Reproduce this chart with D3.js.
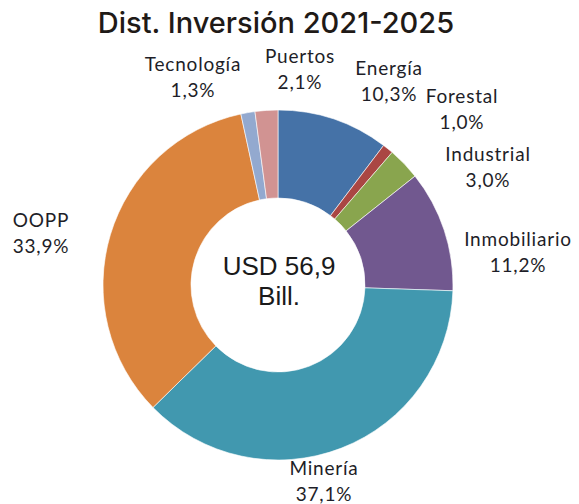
<!DOCTYPE html>
<html>
<head>
<meta charset="utf-8">
<script src="https://cdn.jsdelivr.net/npm/d3@7"></script>
<style>
  body { margin: 0; background: #fff; }
  .lbl { font-family: Lato, sans-serif; font-size: 19px; letter-spacing: 0.8px; fill: #1e1e28; }
</style>
</head>
<body>
<svg id="chart" width="579" height="504"></svg>
<script>
// slices in drawing order, clockwise from 12 o'clock
const categories = ['Energía', 'Forestal', 'Industrial', 'Inmobiliario', 'Minería', 'OOPP', 'Tecnología', 'Puertos'];
const shares = [10.3, 1.0, 3.0, 11.2, 37.1, 33.9, 1.3, 2.1];
const colors = ['#4572a7', '#aa4643', '#89a54e', '#71588f', '#4198af', '#db843d', '#93a9cf', '#d19392'];
const totalText = ['USD 56,9', 'Bill.'];

// where each label sits (center x, first baseline)
const labelPos = {
  'Energía': [389, 75],
  'Forestal': [462, 103],
  'Industrial': [488, 161],
  'Inmobiliario': [518, 246],
  'Minería': [324, 475],
  'OOPP': [41, 227],
  'Tecnología': [193, 71],
  'Puertos': [300, 63]
};

const svg = d3.select('#chart');
const cx = 278, cy = 285;

svg.append('text')
  .attr('x', 276)
  .attr('y', 33)
  .attr('text-anchor', 'middle')
  .style('font-family', 'Inter, sans-serif')
  .style('font-weight', 500)
  .style('font-size', '29px')
  .style('fill', '#1f1a17')
  .text('Dist. Inversión 2021-2025');

const pie = d3.pie().sort(null).value(d => d.v);
const arc = d3.arc().innerRadius(87).outerRadius(175);

const rows = categories.map((c, i) => ({ name: c, v: shares[i], color: colors[i] }));

const g = svg.append('g').attr('transform', `translate(${cx},${cy})`);

g.selectAll('path')
  .data(pie(rows))
  .enter()
  .append('path')
  .attr('d', arc)
  .attr('fill', d => d.data.color)
  .attr('stroke', '#fff')
  .attr('stroke-width', 0.6);

// labels: name + percentage with comma decimal
const fmt = v => v.toFixed(1).replace('.', ',') + '%';

const lbl = svg.selectAll('text.lbl')
  .data(rows)
  .enter()
  .append('text')
  .attr('class', 'lbl')
  .attr('text-anchor', 'middle')
  .attr('x', d => labelPos[d.name][0])
  .attr('y', d => labelPos[d.name][1]);

lbl.append('tspan')
  .attr('x', d => labelPos[d.name][0])
  .text(d => d.name);
lbl.append('tspan')
  .attr('x', d => labelPos[d.name][0])
  .attr('dy', 26)
  .text(d => fmt(d.v));

// center total
svg.append('text')
  .attr('x', cx + 1)
  .attr('y', 275)
  .attr('text-anchor', 'middle')
  .style('font-family', '"Liberation Sans", Arial, sans-serif')
  .style('font-size', '26px')
  .style('fill', '#1a1a1a')
  .selectAll('tspan')
  .data(totalText)
  .enter()
  .append('tspan')
  .attr('x', cx + 1)
  .attr('dy', (d, i) => i === 0 ? 0 : 30)
  .text(d => d);
</script>
</body>
</html>
